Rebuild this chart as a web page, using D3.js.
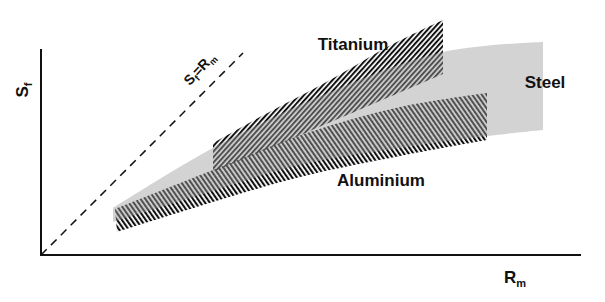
<!DOCTYPE html>
<html>
<head>
<meta charset="utf-8">
<script src="https://cdn.jsdelivr.net/npm/d3@7"></script>
<style>
  body { margin: 0; background: #fff; }
  svg text { font-family: "Liberation Sans", Arial, sans-serif; font-weight: bold; fill: #111; }
</style>
</head>
<body>
<div id="chart"></div>
<script>
// Dados (unidades arbitrárias: Rm no eixo x, Sf no eixo y)
const steelTop = [[72, 47], [172, 107], [289, 163], [402, 203], [502, 213]];
const steelBottom = [[72, 33], [159, 60], [259, 90], [359, 107], [446, 119], [502, 125]];
const titaniumTop = [[172, 112], [219, 138], [289, 175], [352, 211], [402, 235]];
const titaniumBottom = [[172, 83], [269, 124], [402, 181]];
const aluminiumTop = [[74, 46], [172, 85], [269, 123], [359, 148], [446, 162]];
const aluminiumBottom = [[76, 23], [159, 49], [259, 78], [359, 99], [446, 115]];
const identityLine = [[0, 0], [202, 202]];
const materialLabels = ["Titanium", "Steel", "Aluminium"];

const width = 605, height = 302;
const margin = { top: 49, right: 24, bottom: 47, left: 41 };

const svg = d3.select("#chart").append("svg")
  .attr("width", width)
  .attr("height", height);

const x = d3.scaleLinear().domain([0, 540]).range([margin.left, width - margin.right]);
const y = d3.scaleLinear().domain([0, 206]).range([height - margin.bottom, margin.top]);

// Padrões de hachura
const defs = svg.append("defs");
function hatch(id, angle, spacing, lw) {
  const p = defs.append("pattern")
    .attr("id", id)
    .attr("patternUnits", "userSpaceOnUse")
    .attr("width", spacing)
    .attr("height", 10)
    .attr("patternTransform", `rotate(${angle})`);
  p.append("rect").attr("x", 0).attr("y", 0).attr("width", lw).attr("height", 10).attr("fill", "#111");
}
hatch("hatch-ti", 42, 3.7, 2);
hatch("hatch-al", -35, 3.9, 2.1);

const curve = d3.line()
  .x(d => x(d[0]))
  .y(d => y(d[1]))
  .curve(d3.curveCatmullRom.alpha(0.5));

// Faixa fechada: borda superior + borda inferior invertida
function band(top, bottom) {
  const a = curve(top);
  const b = curve(bottom.slice().reverse()).replace(/^M/, "L");
  return a + b + "Z";
}

svg.append("path")
  .attr("d", band(titaniumTop, titaniumBottom))
  .attr("fill", "url(#hatch-ti)");

svg.append("path")
  .attr("d", band(aluminiumTop, aluminiumBottom))
  .attr("fill", "url(#hatch-al)");

// Aço por cima, semi-transparente
svg.append("path")
  .attr("d", band(steelTop, steelBottom))
  .attr("fill", "#9e9e9e")
  .attr("fill-opacity", 0.45);

// Linha Sf = Rm
svg.append("path")
  .attr("d", d3.line().x(d => x(d[0])).y(d => y(d[1]))(identityLine))
  .attr("fill", "none")
  .attr("stroke", "#111")
  .attr("stroke-width", 1.5)
  .attr("stroke-dasharray", "8,6");

// Eixos
svg.append("line")
  .attr("x1", x(0)).attr("y1", y(0))
  .attr("x2", x(0)).attr("y2", y(206))
  .attr("stroke", "#111").attr("stroke-width", 2);
svg.append("line")
  .attr("x1", x(0) - 1).attr("y1", y(0))
  .attr("x2", x(540)).attr("y2", y(0))
  .attr("stroke", "#111").attr("stroke-width", 2);

// Rótulos dos materiais
const labelPos = [[353, 50], [545, 88], [381, 186]];
materialLabels.forEach((t, i) => {
  svg.append("text")
    .attr("x", labelPos[i][0])
    .attr("y", labelPos[i][1])
    .attr("text-anchor", "middle")
    .style("font-size", "17px")
    .text(t);
});

// Rótulo eixo y: S_f
const sf = svg.append("text")
  .attr("transform", "translate(28,90) rotate(-90)")
  .attr("text-anchor", "middle")
  .style("font-size", "17px");
sf.append("tspan").text("S");
sf.append("tspan").attr("dy", 4).style("font-size", "11px").text("f");

// Rótulo eixo x: R_m
const rm = svg.append("text")
  .attr("x", 515).attr("y", 283)
  .attr("text-anchor", "middle")
  .style("font-size", "17px");
rm.append("tspan").text("R");
rm.append("tspan").attr("dy", 4).style("font-size", "11px").text("m");

// Rótulo da linha diagonal
const diag = svg.append("text")
  .attr("transform", "translate(203,72) rotate(-47)")
  .attr("text-anchor", "middle")
  .style("font-size", "14px");
diag.append("tspan").text("S");
diag.append("tspan").attr("dy", 3).style("font-size", "9px").text("f");
diag.append("tspan").attr("dy", -3).text("=R");
diag.append("tspan").attr("dy", 3).style("font-size", "9px").text("m");
</script>
</body>
</html>
